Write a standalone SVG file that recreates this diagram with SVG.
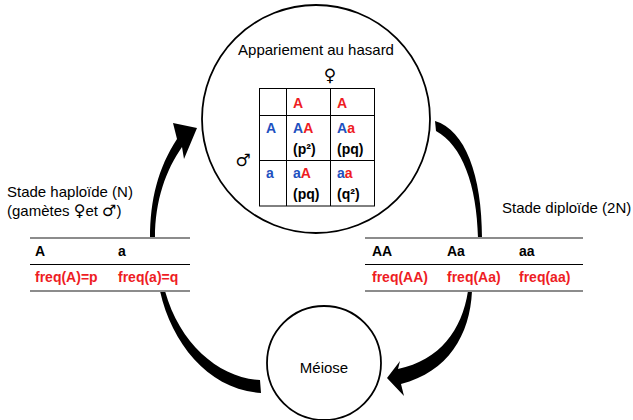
<svg xmlns="http://www.w3.org/2000/svg" width="633" height="420" viewBox="0 0 633 420">
<style>
.t{font-family:"Liberation Sans",Arial,sans-serif;font-size:15px;fill:#000}
.b{font-family:"Liberation Sans",Arial,sans-serif;font-size:14px;font-weight:bold}
.p{font-family:"Liberation Sans",Arial,sans-serif;font-size:14px;font-weight:bold}
.sym{font-family:"DejaVu Sans",sans-serif}
.r{fill:#ee1c24}
.bl{fill:#2150c0}
.k{fill:#000}
.circ{fill:#fff;stroke:#000;stroke-width:1.8}
.grid{stroke:#000;stroke-width:1;fill:none}
.tl{stroke:#8c8c8c;stroke-width:2}
.ml{stroke:#000;stroke-width:1}
.arr{fill:#000;stroke:none}
</style>
<g id="connectors">
<path class="arr" d="M150,238 C150,200 158,168 177,139 L173,123 L197,128 L184,159 L182,147 C166,170 155,200 155,238 Z"/>
<path class="arr" d="M435,121 C465,130 482,175 482,238 L478,238 C477,185 462,145 436,131 Z"/>
<path class="arr" d="M160,291 C172,345 210,390 261,393 L260,380 C220,378 180,345 165,291 Z"/>
<path class="arr" d="M468,291 C462,330 440,360 398,369 L400,361 L387,378 L404,396 L401,384 C448,372 470,335 472,291 Z"/>
</g>
<g id="appariement">
<circle class="circ" cx="316" cy="119" r="114"/>
<text class="t" x="316" y="55" text-anchor="middle">Appariement au hasard</text>
<text class="sym" x="330" y="81" font-size="17" text-anchor="middle">♀</text>
<text class="sym" x="243" y="166" font-size="17" text-anchor="middle">♂</text>
<rect class="grid" x="259.5" y="88.5" width="115" height="117.5"/>
<line class="grid" x1="286.5" y1="88.5" x2="286.5" y2="206"/>
<line class="grid" x1="330.5" y1="88.5" x2="330.5" y2="206"/>
<line class="grid" x1="259.5" y1="115.5" x2="374.5" y2="115.5"/>
<line class="grid" x1="259.5" y1="160.5" x2="374.5" y2="160.5"/>
<text class="p r" x="293" y="108">A</text>
<text class="p r" x="337" y="108">A</text>
<text class="p bl" x="266" y="133">A</text>
<text class="p" x="293" y="133"><tspan class="bl">A</tspan><tspan class="r">A</tspan></text>
<text class="p" x="337" y="133"><tspan class="bl">A</tspan><tspan class="r">a</tspan></text>
<text class="p k" x="293" y="154">(p²)</text>
<text class="p k" x="337" y="154">(pq)</text>
<text class="p bl" x="266" y="178">a</text>
<text class="p" x="293" y="178"><tspan class="bl">a</tspan><tspan class="r">A</tspan></text>
<text class="p" x="337" y="178"><tspan class="bl">a</tspan><tspan class="r">a</tspan></text>
<text class="p k" x="293" y="199">(pq)</text>
<text class="p k" x="337" y="199">(q²)</text>
</g>
<g id="haploide">
<text class="t" x="7" y="197">Stade haploïde (N)</text>
<text class="t" x="7" y="216">(gamètes <tspan class="sym" font-size="16">♀</tspan>et <tspan class="sym" font-size="16">♂</tspan>)</text>
<line class="tl" x1="30" y1="238" x2="190" y2="238"/>
<line class="ml" x1="30" y1="264.5" x2="190" y2="264.5"/>
<line class="tl" x1="30" y1="291" x2="190" y2="291"/>
<text class="b k" x="35" y="256">A</text>
<text class="b k" x="118" y="256">a</text>
<text class="b r" x="35" y="282">freq(A)=p</text>
<text class="b r" x="118" y="282">freq(a)=q</text>
</g>
<g id="diploide">
<text class="t" x="502" y="213">Stade diploïde (2N)</text>
<line class="tl" x1="365" y1="238" x2="583" y2="238"/>
<line class="ml" x1="365" y1="264.5" x2="583" y2="264.5"/>
<line class="tl" x1="365" y1="291" x2="583" y2="291"/>
<text class="b k" x="372" y="256">AA</text>
<text class="b k" x="447" y="256">Aa</text>
<text class="b k" x="519" y="256">aa</text>
<text class="b r" x="372" y="282">freq(AA)</text>
<text class="b r" x="447" y="282">freq(Aa)</text>
<text class="b r" x="519" y="282">freq(aa)</text>
</g>
<g id="meiose">
<circle class="circ" cx="324" cy="363" r="57"/>
<text class="t" x="324" y="373" text-anchor="middle">Méiose</text>
</g>
</svg>
